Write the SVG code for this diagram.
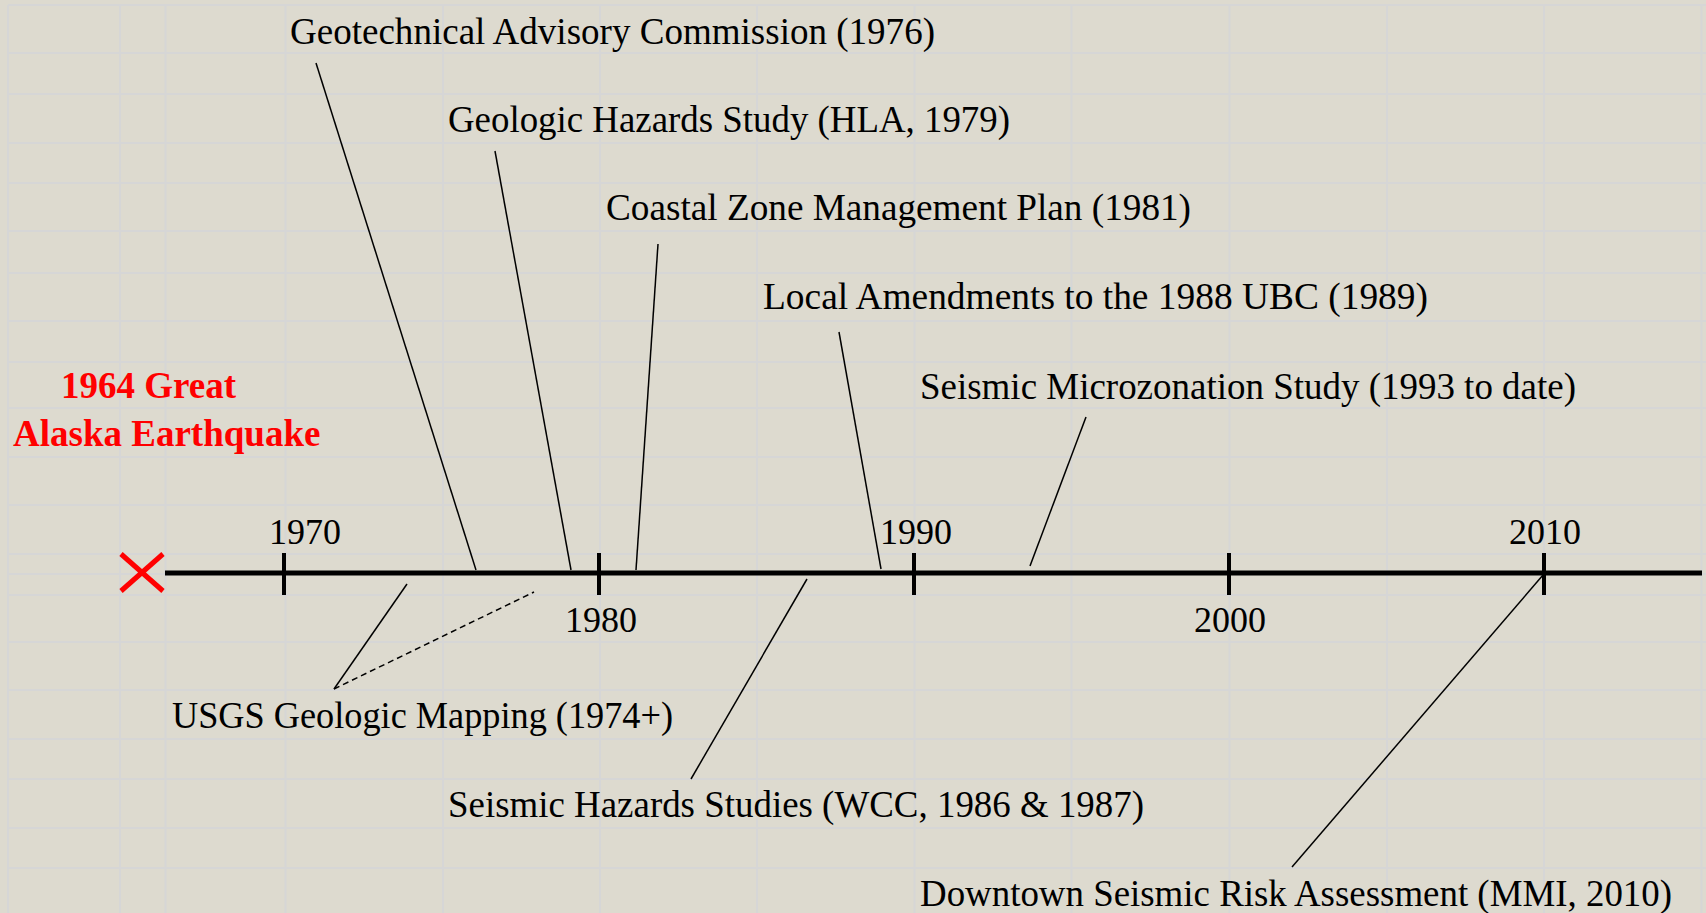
<svg xmlns="http://www.w3.org/2000/svg" width="1706" height="913" viewBox="0 0 1706 913">
  <style>
    .bg { fill: #dddacf; }
    .grid line { stroke: #d6d6d6; stroke-width: 2; }
    .yr { font-family: "Liberation Serif", "Times New Roman", serif; font-size: 36px; fill: #000; }
    .lbl { font-family: "Liberation Serif", "Times New Roman", serif; font-size: 37px; fill: #000; }
    .quake { font-family: "Liberation Serif", "Times New Roman", serif; font-size: 37px; font-weight: bold; fill: #ff0000; }
    .axis { stroke: #000; stroke-width: 5; }
    .tick { stroke: #000; stroke-width: 4; }
    .leader { stroke: #000; stroke-width: 1.5; fill: none; }
    .dashed { stroke-dasharray: 6 4; }
    .cross { stroke: #ff0000; stroke-width: 5; }
  </style>

  <!-- backdrop -->
  <rect class="bg" x="0" y="0" width="1706" height="913"/>

  <!-- faint cell grid -->
  <g class="grid">
    <line x1="8" y1="5" x2="8" y2="913"/>
    <line x1="120" y1="5" x2="120" y2="913"/>
    <line x1="165.5" y1="5" x2="165.5" y2="913"/>
    <line x1="285.5" y1="5" x2="285.5" y2="913"/>
    <line x1="443" y1="5" x2="443" y2="913"/>
    <line x1="600" y1="5" x2="600" y2="913"/>
    <line x1="757" y1="5" x2="757" y2="913"/>
    <line x1="914.5" y1="5" x2="914.5" y2="913"/>
    <line x1="1071.5" y1="5" x2="1071.5" y2="913"/>
    <line x1="1229.5" y1="5" x2="1229.5" y2="913"/>
    <line x1="1387" y1="5" x2="1387" y2="913"/>
    <line x1="1544" y1="5" x2="1544" y2="913"/>
    <line x1="1701.5" y1="5" x2="1701.5" y2="913"/>

    <line x1="8" y1="5" x2="1706" y2="5"/>
    <line x1="8" y1="53" x2="1706" y2="53"/>
    <line x1="8" y1="94" x2="1706" y2="94"/>
    <line x1="8" y1="143" x2="1706" y2="143"/>
    <line x1="8" y1="183" x2="1706" y2="183"/>
    <line x1="8" y1="231" x2="1706" y2="231"/>
    <line x1="8" y1="273" x2="1706" y2="273"/>
    <line x1="8" y1="321" x2="1706" y2="321"/>
    <line x1="8" y1="362" x2="1706" y2="362"/>
    <line x1="8" y1="408" x2="1706" y2="408"/>
    <line x1="8" y1="457" x2="1706" y2="457"/>
    <line x1="8" y1="505" x2="1706" y2="505"/>
    <line x1="8" y1="554" x2="1706" y2="554"/>
    <line x1="8" y1="574" x2="1706" y2="574"/>
    <line x1="8" y1="595" x2="1706" y2="595"/>
    <line x1="8" y1="642" x2="1706" y2="642"/>
    <line x1="8" y1="690" x2="1706" y2="690"/>
    <line x1="8" y1="739" x2="1706" y2="739"/>
    <line x1="8" y1="779" x2="1706" y2="779"/>
    <line x1="8" y1="828" x2="1706" y2="828"/>
    <line x1="8" y1="868" x2="1706" y2="868"/>
  </g>

  <!-- time axis with decade ticks -->
  <g id="timeline">
    <line class="axis" x1="165" y1="573" x2="1702" y2="573"/>
    <line class="tick" x1="284" y1="553" x2="284" y2="595"/>
    <line class="tick" x1="599" y1="553" x2="599" y2="595"/>
    <line class="tick" x1="914" y1="553" x2="914" y2="595"/>
    <line class="tick" x1="1229" y1="553" x2="1229" y2="595"/>
    <line class="tick" x1="1544" y1="553" x2="1544" y2="595"/>
    <text class="yr" x="269" y="544">1970</text>
    <text class="yr" x="565" y="632">1980</text>
    <text class="yr" x="880" y="544">1990</text>
    <text class="yr" x="1194" y="632">2000</text>
    <text class="yr" x="1509" y="544">2010</text>
  </g>

  <!-- 1964 earthquake marker -->
  <g id="earthquake">
    <line class="cross" x1="121" y1="554" x2="163" y2="591"/>
    <line class="cross" x1="121" y1="591" x2="163" y2="554"/>
    <text class="quake" x="61" y="398">1964 Great</text>
    <text class="quake" x="13" y="446">Alaska Earthquake</text>
  </g>

  <!-- event labels -->
  <g id="geotechnical-commission">
    <text class="lbl" x="290" y="44" textLength="645" lengthAdjust="spacingAndGlyphs">Geotechnical Advisory Commission (1976)</text>
  </g>
  <g id="geologic-hazards">
    <text class="lbl" x="448" y="132" textLength="562" lengthAdjust="spacingAndGlyphs">Geologic Hazards Study (HLA, 1979)</text>
  </g>
  <g id="coastal-zone">
    <text class="lbl" x="606" y="220" textLength="585" lengthAdjust="spacingAndGlyphs">Coastal Zone Management Plan (1981)</text>
  </g>
  <g id="local-amendments">
    <text class="lbl" x="763" y="309" textLength="665" lengthAdjust="spacingAndGlyphs">Local Amendments to the 1988 UBC (1989)</text>
  </g>
  <g id="microzonation">
    <text class="lbl" x="920" y="399" textLength="656" lengthAdjust="spacingAndGlyphs">Seismic Microzonation Study (1993 to date)</text>
  </g>
  <g id="usgs-mapping">
    <text class="lbl" x="172" y="728" textLength="501" lengthAdjust="spacingAndGlyphs">USGS Geologic Mapping (1974+)</text>
  </g>
  <g id="seismic-hazards">
    <text class="lbl" x="448" y="817" textLength="696" lengthAdjust="spacingAndGlyphs">Seismic Hazards Studies (WCC, 1986 &amp; 1987)</text>
  </g>
  <g id="downtown-risk">
    <text class="lbl" x="920" y="906" textLength="752" lengthAdjust="spacingAndGlyphs">Downtown Seismic Risk Assessment (MMI, 2010)</text>
  </g>

  <!-- leader lines from labels to the axis -->
  <g id="connectors">
    <line class="leader" x1="316" y1="63" x2="476" y2="570"/>
    <line class="leader" x1="495" y1="151" x2="571" y2="570"/>
    <line class="leader" x1="658" y1="244" x2="636" y2="570"/>
    <line class="leader" x1="839" y1="332" x2="881" y2="569"/>
    <line class="leader" x1="1086" y1="417" x2="1030" y2="566"/>
    <line class="leader" x1="334" y1="689" x2="407" y2="584"/>
    <line class="leader dashed" x1="334" y1="689" x2="534" y2="592"/>
    <line class="leader" x1="807" y1="579" x2="691" y2="779"/>
    <line class="leader" x1="1543" y1="575" x2="1292" y2="867"/>
  </g>
</svg>
